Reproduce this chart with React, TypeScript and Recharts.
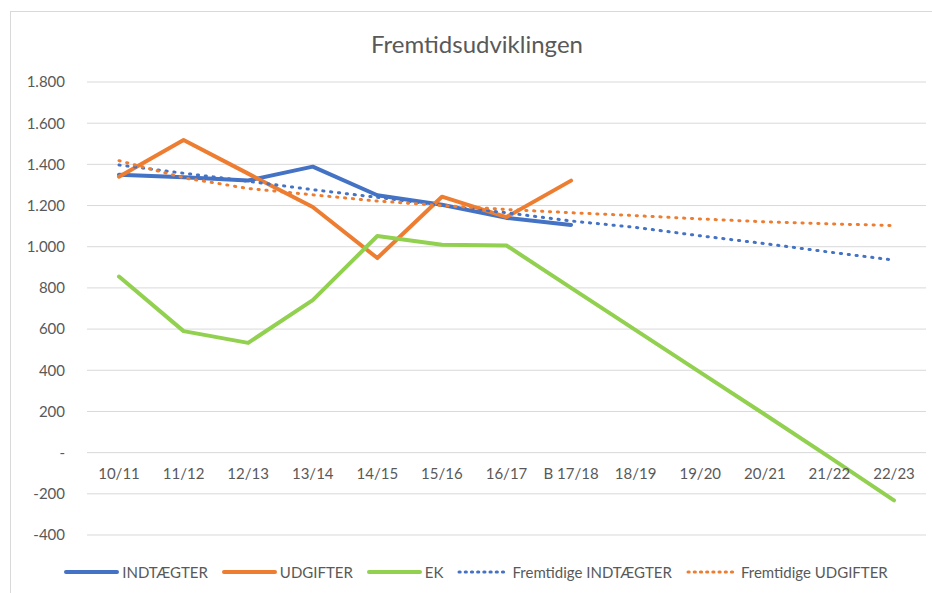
import React from 'react';
import { LineChart, Line, XAxis, YAxis, CartesianGrid } from 'recharts';

const categories = ['10/11', '11/12', '12/13', '13/14', '14/15', '15/16', '16/17', 'B 17/18', '18/19', '19/20', '20/21', '21/22', '22/23'];
const indtaegter = [1350, 1338, 1322, 1389, 1250, 1204, 1140, 1106, null, null, null, null, null];
const udgifter = [1340, 1518, 1355, 1193, 945, 1243, 1144, 1321, null, null, null, null, null];
const ek = [855, 590, 533, 741, 1052, 1010, 1006, 800, 595, 390, 185, -22, -232];
const fremtidigeIndtaegter = [1397, 1357, 1318, 1277, 1240, 1200, 1165, 1125, 1094, 1053, 1015, 974, 935];
const fremtidigeUdgifter = [1418, 1335, 1283, 1252, 1222, 1200, 1181, 1165, 1151, 1135, 1121, 1111, 1103];
const yTicks = [-400, -200, 0, 200, 400, 600, 800, 1000, 1200, 1400, 1600, 1800];

const BLUE = '#4472C4';
const ORANGE = '#ED7D31';
const GREEN = '#92D050';
const TEXT = '#595959';
const FONT = 'Lato, "Open Sans", sans-serif';

const series = [
  { key: 'indtaegter', name: 'INDTÆGTER', color: BLUE, dotted: false },
  { key: 'udgifter', name: 'UDGIFTER', color: ORANGE, dotted: false },
  { key: 'ek', name: 'EK', color: GREEN, dotted: false },
  { key: 'fremIndt', name: 'Fremtidige INDTÆGTER', color: BLUE, dotted: true },
  { key: 'fremUdg', name: 'Fremtidige UDGIFTER', color: ORANGE, dotted: true },
];

const data = categories.map((cat, i) => ({
  cat,
  indtaegter: indtaegter[i],
  udgifter: udgifter[i],
  ek: ek[i],
  fremIndt: fremtidigeIndtaegter[i],
  fremUdg: fremtidigeUdgifter[i],
}));

// danish thousands separator, zero shown as a dash
const fmt = (v: number) => {
  if (v === 0) return '-';
  const s = Math.abs(v).toString().replace(/\B(?=(\d{3})+(?!\d))/g, '.');
  return (v < 0 ? '-' : '') + s;
};

// category labels sit just under the zero line, not at the bottom of the plot
const XTick = (props: any) => {
  const { x, y, payload } = props;
  return (
    <text x={x} y={y} dy={-56} textAnchor="middle" fill={TEXT} fontSize={15} fontFamily={FONT}>
      {payload.value}
    </text>
  );
};

const App: React.FC = () => {
  return (
    <div style={{ position: 'absolute', left: 0, top: 0, width: 932, height: 593, overflow: 'hidden', background: '#fff' }}>
      <div
        style={{
          position: 'absolute',
          left: 10,
          top: 11,
          width: 960,
          height: 620,
          border: '1px solid #d9d9d9',
        }}
      />
      <div
        style={{
          position: 'absolute',
          left: 10,
          top: 29,
          width: 934,
          textAlign: 'center',
          fontFamily: FONT,
          fontWeight: 400,
          fontSize: 24,
          color: TEXT,
        }}
      >
        Fremtidsudviklingen
      </div>
      <div style={{ position: 'absolute', left: 0, top: 0 }}>
        <LineChart width={932} height={593} data={data} margin={{ top: 82, right: 6, left: 27, bottom: 28 }}>
          <CartesianGrid vertical={false} stroke="#d9d9d9" strokeWidth={1} />
          <XAxis
            dataKey="cat"
            height={30}
            padding={{ left: 32, right: 32 }}
            axisLine={false}
            tickLine={false}
            tickSize={0}
            tickMargin={0}
            interval={0}
            tick={<XTick />}
          />
          <YAxis
            width={60}
            domain={[-400, 1800]}
            ticks={yTicks}
            interval={0}
            axisLine={false}
            tickLine={false}
            tickSize={0}
            tickMargin={22}
            tickFormatter={fmt}
            tick={{ fill: TEXT, fontSize: 15, fontFamily: FONT }}
          />
          {series.map((s) => (
            <Line
              key={s.key}
              type="linear"
              dataKey={s.key}
              name={s.name}
              stroke={s.color}
              strokeWidth={s.dotted ? 3 : 4}
              strokeDasharray={s.dotted ? '1.2 6.7' : undefined}
              strokeLinecap="round"
              strokeLinejoin="round"
              dot={false}
              activeDot={false}
              isAnimationActive={false}
            />
          ))}
        </LineChart>
      </div>
      <div
        style={{
          position: 'absolute',
          left: 0,
          top: 563,
          width: 966,
          display: 'flex',
          justifyContent: 'center',
          alignItems: 'center',
          fontFamily: FONT,
          fontSize: 15,
          color: TEXT,
        }}
      >
        {series.map((s) => (
          <div key={s.key} style={{ display: 'flex', alignItems: 'center', marginRight: 14 }}>
            <svg width={s.dotted ? 52 : 55} height={10} style={{ marginRight: 3 }}>
              <line
                x1={2}
                y1={5}
                x2={s.dotted ? 50 : 53}
                y2={5}
                stroke={s.color}
                strokeWidth={s.dotted ? 3 : 4}
                strokeDasharray={s.dotted ? '1.2 5' : undefined}
                strokeLinecap="round"
              />
            </svg>
            <span>{s.name}</span>
          </div>
        ))}
      </div>
    </div>
  );
};

export default App;
